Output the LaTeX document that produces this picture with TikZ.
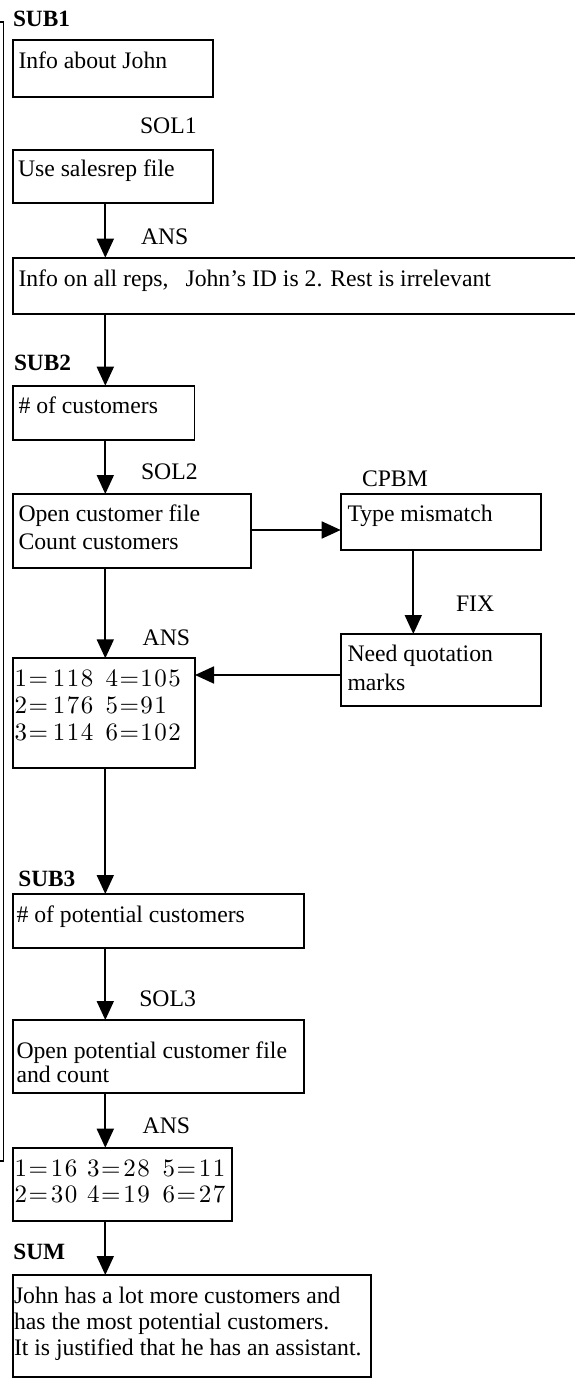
\documentclass[tikz,border=0pt]{standalone}
\usepackage{fontspec}
\setmainfont{Liberation Serif}
\newfontfamily\lmr{lmroman10-regular.otf}[LetterSpace=6]
\usetikzlibrary{arrows.meta}
\tikzset{
  box/.style={draw, line width=1.8pt, inner sep=0pt, outer sep=0pt, anchor=north west},
  txt/.style={anchor=base west, inner sep=0pt, outer sep=0pt, font=\fontsize{23.7}{27}\selectfont},
  hd/.style={txt, font=\fontsize{23.3}{27}\selectfont\bfseries},
  num/.style={anchor=base west, inner sep=0pt, outer sep=0pt, font=\fontsize{25}{27}\selectfont\lmr},
  arr/.style={line width=1.8pt, -{Triangle[width=17pt,length=19pt]}},
  brk/.style={line width=1.8pt}
}
\begin{document}
\begin{tikzpicture}[x=1pt,y=-1pt]
\useasboundingbox (0,0) rectangle (574,1380);
% left bracket
\draw[brk] (0,22) -- (3.5,22) -- (3.5,1161) -- (0,1161);
% helper coordinates for connector lines
\coordinate (ax) at (105.3,0);
\coordinate (bx) at (413.3,0);
\coordinate (ay) at (0,530);
\coordinate (by) at (0,675);
% boxes
\node[box, minimum width=200.3pt, minimum height=57pt]   (b1)  at (12.7,40) {};
\node[box, minimum width=200.3pt, minimum height=53.3pt] (b2)  at (12.7,150) {};
\node[box, minimum width=563.3pt, minimum height=56.3pt] (b3)  at (12.7,257.7) {};
\node[box, minimum width=181.7pt, minimum height=54.3pt] (b4)  at (12.7,385.7) {};
\node[box, minimum width=238pt,   minimum height=73.7pt] (b5)  at (12.7,494) {};
\node[box, minimum width=200.3pt, minimum height=56pt]   (b6)  at (340.7,494) {};
\node[box, minimum width=200.3pt, minimum height=71.7pt] (b7)  at (340.7,634) {};
\node[box, minimum width=182.3pt, minimum height=109.4pt] (b8) at (12.7,658.3) {};
\node[box, minimum width=291.3pt, minimum height=54pt]   (b9)  at (12.7,894) {};
\node[box, minimum width=291.3pt, minimum height=73.3pt] (b10) at (12.7,1020) {};
\node[box, minimum width=219.6pt, minimum height=73.3pt] (b11) at (12.7,1147.7) {};
\node[box, minimum width=358.3pt, minimum height=102pt]  (b12) at (12.7,1275) {};
% labels
\node[hd]  (sub1) at (13,27) {SUB1};
\node[txt] (sol1) at (140,134) {SOL1};
\node[txt] (ans1) at (141,244.3) {ANS};
\node[hd]  (sub2) at (14,370) {SUB2};
\node[txt] (sol2) at (141,479.3) {SOL2};
\node[txt] (cpbm) at (362,486) {CPBM};
\node[txt] (fix)  at (456,611.7) {FIX};
\node[txt] (ans2) at (142.7,645) {ANS};
\node[hd]  (sub3) at (18.3,886) {SUB3};
\node[txt] (sol3) at (139.3,1006.7) {SOL3};
\node[txt] (ans3) at (142.7,1133.3) {ANS};
\node[hd]  (sum)  at (13.3,1259.3) {SUM};
% box texts
\node[txt] (t1)  at (18.5,68.3) {Info about John};
\node[txt] (t2)  at (18,176.7) {Use salesrep file};
\node[txt] (t3)  at (18.5,286) {Info on all reps,\hspace{17pt}John’s ID is 2. Rest is irrelevant};
\node[txt] (t4)  at (18.5,413.3) {\# of customers};
\node[txt] (t5a) at (18.5,521.7) {Open customer file};
\node[txt] (t5b) at (18.5,549.3) {Count customers};
\node[txt] (t6)  at (347.5,521.7) {Type mismatch};
\node[txt] (t7a) at (347.5,661.7) {Need quotation};
\node[txt] (t7b) at (347.5,690) {marks};
\node[num] (n1)  at (14.5,686.5) {1=\kern5pt 118};
\node[num] (n4)  at (105.5,686.5) {4=105};
\node[num] (n2)  at (14.5,713.3) {2=\kern5pt 176};
\node[num] (n5)  at (105.5,713.3) {5=91};
\node[num] (n3)  at (14.5,740) {3=\kern5pt 114};
\node[num] (n6)  at (105.5,740) {6=102};
\node[txt] (t9)  at (16.5,922.3) {\# of potential customers};
\node[txt] (t10a) at (16.5,1058) {Open potential customer file};
\node[txt] (t10b) at (16.5,1082) {and count};
\node[num] (m1)  at (14.5,1176) {1=\kern3pt 16};
\node[num] (m3)  at (87,1176) {3=\kern3pt 28};
\node[num] (m5)  at (162.5,1176) {5=\kern3pt 11};
\node[num] (m2)  at (14.5,1202.7) {2=\kern3pt 30};
\node[num] (m4)  at (87,1202.7) {4=\kern3pt 19};
\node[num] (m6)  at (162.5,1202.7) {6=\kern3pt 27};
\node[txt] (t12a) at (14,1303.3) {John has a lot more customers and};
\node[txt] (t12b) at (14,1329.3) {has the most potential customers.};
\node[txt] (t12c) at (14,1355) {It is justified that he has an assistant.};
% connectors
\draw[arr] (b2.south -| ax) -- (b3.north -| ax);
\draw[arr] (b3.south -| ax) -- (b4.north -| ax);
\draw[arr] (b4.south -| ax) -- (b5.north -| ax);
\draw[arr] (b5.east |- ay) -- (b6.west |- ay);
\draw[arr] (b6.south -| bx) -- (b7.north -| bx);
\draw[arr] (b7.west |- by) -- (b8.east |- by);
\draw[arr] (b5.south -| ax) -- (b8.north -| ax);
\draw[arr] (b8.south -| ax) -- (b9.north -| ax);
\draw[arr] (b9.south -| ax) -- (b10.north -| ax);
\draw[arr] (b10.south -| ax) -- (b11.north -| ax);
\draw[arr] (b11.south -| ax) -- (b12.north -| ax);
\end{tikzpicture}
\end{document}
